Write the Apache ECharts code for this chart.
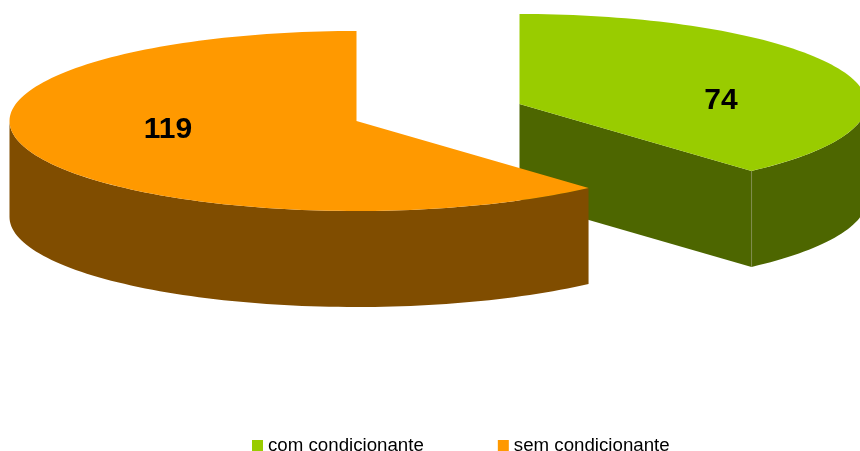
<!DOCTYPE html>
<html><head><meta charset="utf-8">
<style>html,body{margin:0;padding:0;background:#fff}#c{width:860px;height:451px}</style>
<script src="https://cdn.jsdelivr.net/npm/echarts@6/dist/echarts.min.js"></script>
</head><body><div id="c"></div>
<script>
const categories = ['com condicionante', 'sem condicionante'];
const values = [74, 119];
const topColors = ['#99cc00', '#ff9900'];
const wallColors = ['#4d6600', '#804d00'];

// layout of the tilted disc
const RX = 347, RY = 90, DEPTH = 96;
const centers = [[519.5, 104], [356.5, 121]];
const labelPos = [[721, 101], [168, 130]];
const total = values.reduce((a, b) => a + b, 0);
const startAngles = values.map((v, i) => values.slice(0, i).reduce((a, b) => a + b, 0) / total * 360);

function pt(c, deg, dy) {
  const a = deg * Math.PI / 180;
  return [c[0] + RX * Math.sin(a), c[1] - RY * Math.cos(a) + (dy || 0)];
}
function arc(c, from, to, dy) {
  const out = [];
  const n = Math.max(2, Math.ceil(Math.abs(to - from) / 1.5));
  for (let k = 0; k <= n; k++) out.push(pt(c, from + (to - from) * k / n, dy));
  return out;
}
function renderSlice(i) {
  return function (params, api) {
    const c = centers[i];
    const a0 = startAngles[i];
    const a1 = a0 + api.value(0) / total * 360;
    const children = [];
    const shape = pts => ({ points: pts });
    // cut face from the centre to the end of the slice (faces the viewer only when it lies in the lower half)
    if (a1 < 180) {
      children.push({ type: 'polygon', shape: shape([c, pt(c, a1), pt(c, a1, DEPTH), [c[0], c[1] + DEPTH]]),
        style: { fill: wallColors[i] } });
    }
    // outer wall: the part of the rim between 90 and 270 degrees
    const w0 = Math.max(a0, 90), w1 = Math.min(a1, 270);
    if (w1 > w0) {
      const rim = arc(c, w0, w1);
      const low = arc(c, w1, w0, DEPTH);
      children.push({ type: 'polygon', shape: shape(rim.concat(low)), style: { fill: wallColors[i] } });
    }
    // top face
    children.push({ type: 'polygon', shape: shape([c].concat(arc(c, a0, a1))), style: { fill: topColors[i] } });
    // seam between cut face and wall
    if (a1 < 180) {
      children.push({ type: 'line', shape: { x1: pt(c, a1)[0], y1: pt(c, a1)[1], x2: pt(c, a1, DEPTH)[0], y2: pt(c, a1, DEPTH)[1] },
        style: { stroke: '#7f8c4d', lineWidth: 1 } });
    }
    children.push({ type: 'text', style: {
      x: labelPos[i][0], y: labelPos[i][1], text: String(api.value(0)), align: 'center', verticalAlign: 'middle',
      font: 'bold 30px "Liberation Sans", Arial, sans-serif', fill: '#000' } });
    return { type: 'group', children };
  };
}
const chart = echarts.init(document.getElementById('c'), null, { renderer: 'canvas' });
chart.setOption({
  animation: false,
  backgroundColor: '#fff',
  legend: {
    data: categories, left: 247, top: 431, itemWidth: 11, itemHeight: 11, itemGap: 74,
    icon: 'rect', selectedMode: false,
    textStyle: { fontFamily: '"Liberation Sans", Arial, sans-serif', fontSize: 18.7, color: '#000', padding: [0, 0, 2, 0] }
  },
  series: categories.map((name, i) => ({
    type: 'custom', name, coordinateSystem: 'none', clip: false,
    itemStyle: { color: topColors[i] },
    data: [[values[i]]],
    renderItem: renderSlice(i)
  }))
});
</script></body></html>
